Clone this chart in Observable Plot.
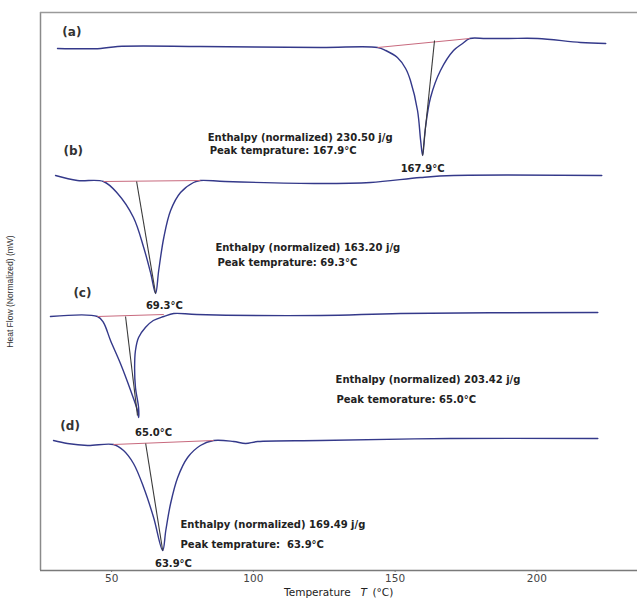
<!DOCTYPE html>
<html><head><meta charset="utf-8">
<script src="https://cdn.jsdelivr.net/npm/d3@7"></script>
<script src="https://cdn.jsdelivr.net/npm/@observablehq/plot@0.6"></script>
<style>body{margin:0;background:#fff}</style>
</head><body><div id="chart"></div>
<script>
// Temperature (°C) and heat flow (normalized, arbitrary stacked units)
const panels = ["(a)", "(b)", "(c)", "(d)"];

const tempA = [30.9,46.1,52.1,81.3,123.7,143.8,146.7,150.8,153.7,155.4,157.9,159.0,159.7,160.7,162.5,166.0,170.6,173.8,176.3,182.0,190.0,200.3,215.4,224.3];
const flowA = [522,522,524,524,523,523,520,513,502,490,460,430,415,443,473,500,520,527,532,532,532,532,528,527];

const tempB = [30.2,37.9,47.1,52.1,57.7,61.3,63.8,65.5,66.6,68.4,70.8,74.3,78.9,81.3,90.0,123.7,141.3,159.0,170.6,222.9];
const flowB = [395,390,389,377,353,323,297,277,300,333,360,378,388,390,389,387,388,393,395,395];

const tempC = [28.4,45.0,47.1,49.6,53.1,56.7,59.1,59.5,59.5,58.4,58.1,58.4,59.5,61.9,64.7,68.4,71.9,80.0,123.7,151.9,221.5];
const flowC = [254,254,248,230,207,180,160,153,163,183,203,220,233,243,250,254,257,256,255,257,258];

const tempD = [29.5,34.4,41.5,50.6,54.2,57.7,61.3,64.8,68.0,69.1,70.8,73.3,76.8,81.3,86.0,93.0,97.3,101.5,123.7,169.6,221.5];
const flowD = [130,127,125,126,120,107,83,53,20,40,67,93,113,125,130,129,127,129,130,132,132];

// integration baselines (red) and peak drop lines (black)
const baseStartT = [143.8, 47.1, 45.0, 50.6];
const baseStartFlow = [523, 389, 254, 126];
const baseEndT = [176.3, 81.3, 68.4, 86.0];
const baseEndFlow = [532, 390, 256, 130];

const dropStartT = [163.9, 58.8, 54.9, 62.0];
const dropStartFlow = [530, 389, 254, 127];
const dropEndT = [159.7, 65.5, 59.1, 68.0];
const dropEndFlow = [415, 277, 155, 20];

// annotations
const peakLabels = ["167.9°C", "69.3°C", "65.0°C", "63.9°C"];
const peakLabelT = [159.7, 68.6, 64.8, 71.8];
const peakLabelFlow = [402, 265, 138, 7];

const enthalpyText = ["Enthalpy (normalized) 230.50 j/g", "Enthalpy (normalized) 163.20 j/g", "Enthalpy (normalized) 203.42 j/g", "Enthalpy (normalized) 169.49 j/g"];
const enthalpyT = [83.9, 86.6, 129.0, 74.3];
const enthalpyFlow = [433, 323, 191, 46];

const peakTempText = ["Peak temprature: 167.9°C", "Peak temprature: 69.3°C", "Peak temorature: 65.0°C", "Peak temprature:  63.9°C"];
const peakTempT = [84.6, 87.3, 129.3, 74.3];
const peakTempFlow = [420, 308, 171, 26];

const panelT = [32.6, 33.0, 36.5, 31.9];
const panelFlow = [538, 419, 277, 144];

const xTicks = [50, 100, 150, 200];
const xDomain = [24.9, 235.5];
const yDomain = [0, 558];

// ---- build tables ----
const temps = [tempA, tempB, tempC, tempD];
const flows = [flowA, flowB, flowC, flowD];
const curveRows = panels.flatMap((p, k) => temps[k].map((t, i) => ({panel: p, T: t, flow: flows[k][i]})));
const idx = panels.map((p, i) => i);

const wide = "DejaVu Sans, Verdana, sans-serif";
const narrow = "Liberation Sans, Arial, sans-serif";

const chart = Plot.plot({
  width: 637,
  height: 598,
  marginTop: 12,
  marginBottom: 28,
  marginLeft: 40,
  marginRight: 0,
  x: {domain: xDomain},
  y: {domain: yDomain, axis: null},
  style: {fontFamily: wide, background: "#fff", overflow: "visible"},
  marks: [
    Plot.ruleX([xDomain[0]], {stroke: "#8a8a8a", strokeWidth: 1.5}),
    Plot.ruleY([yDomain[1]], {stroke: "#9a9a9a", strokeWidth: 1.5}),
    Plot.ruleY([yDomain[0]], {stroke: "#7a7a7a", strokeWidth: 1.5}),
    Plot.axisX({ticks: xTicks, tickSize: 2, tickPadding: 2, fontSize: 10.5, fill: "#444", stroke: "#777", label: null}),
    Plot.line(curveRows, {x: "T", y: "flow", z: "panel", stroke: "#34398a", strokeWidth: 1.4, curve: "catmull-rom"}),
    Plot.link(idx, {x1: i => baseStartT[i], y1: i => baseStartFlow[i], x2: i => baseEndT[i], y2: i => baseEndFlow[i], stroke: "#c86a7e", strokeWidth: 1}),
    Plot.link(idx, {x1: i => dropStartT[i], y1: i => dropStartFlow[i], x2: i => dropEndT[i], y2: i => dropEndFlow[i], stroke: "#3a3a3a", strokeWidth: 1.1}),
    Plot.text(idx, {x: i => peakLabelT[i], y: i => peakLabelFlow[i], text: i => peakLabels[i], fontSize: 10, fontWeight: "bold", fill: "#222", textAnchor: "middle"}),
    Plot.text(idx, {x: i => enthalpyT[i], y: i => enthalpyFlow[i], text: i => enthalpyText[i], fontSize: 10, fontWeight: "bold", fill: "#222", textAnchor: "start"}),
    Plot.text(idx, {x: i => peakTempT[i], y: i => peakTempFlow[i], text: i => peakTempText[i], fontSize: 10, fontWeight: "bold", fill: "#222", textAnchor: "start"}),
    Plot.text(idx, {x: i => panelT[i], y: i => panelFlow[i], text: i => panels[i], fontSize: 12, fontWeight: "bold", fill: "#333", textAnchor: "start"}),
    Plot.text(["Heat Flow (Normalized) (mW)"], {frameAnchor: "left", dx: -30, rotate: -90, textAnchor: "middle", lineAnchor: "middle", fontSize: 8.5, fontFamily: narrow, fill: "#333", text: d => d}),
    Plot.text([134.3], {x: d => d, frameAnchor: "bottom", lineAnchor: "middle", dy: 22, text: () => "Temperature", textAnchor: "end", fontSize: 10.5, fill: "#222"}),
    Plot.text([138.9], {x: d => d, frameAnchor: "bottom", lineAnchor: "middle", dy: 22, text: () => "T", fontStyle: "italic", textAnchor: "middle", fontSize: 10.5, fill: "#222"}),
    Plot.text([142.0], {x: d => d, frameAnchor: "bottom", lineAnchor: "middle", dy: 22, text: () => "(°C)", textAnchor: "start", fontSize: 10.5, fill: "#222"})
  ]
});
document.getElementById("chart").appendChild(chart);
</script>
</body></html>
